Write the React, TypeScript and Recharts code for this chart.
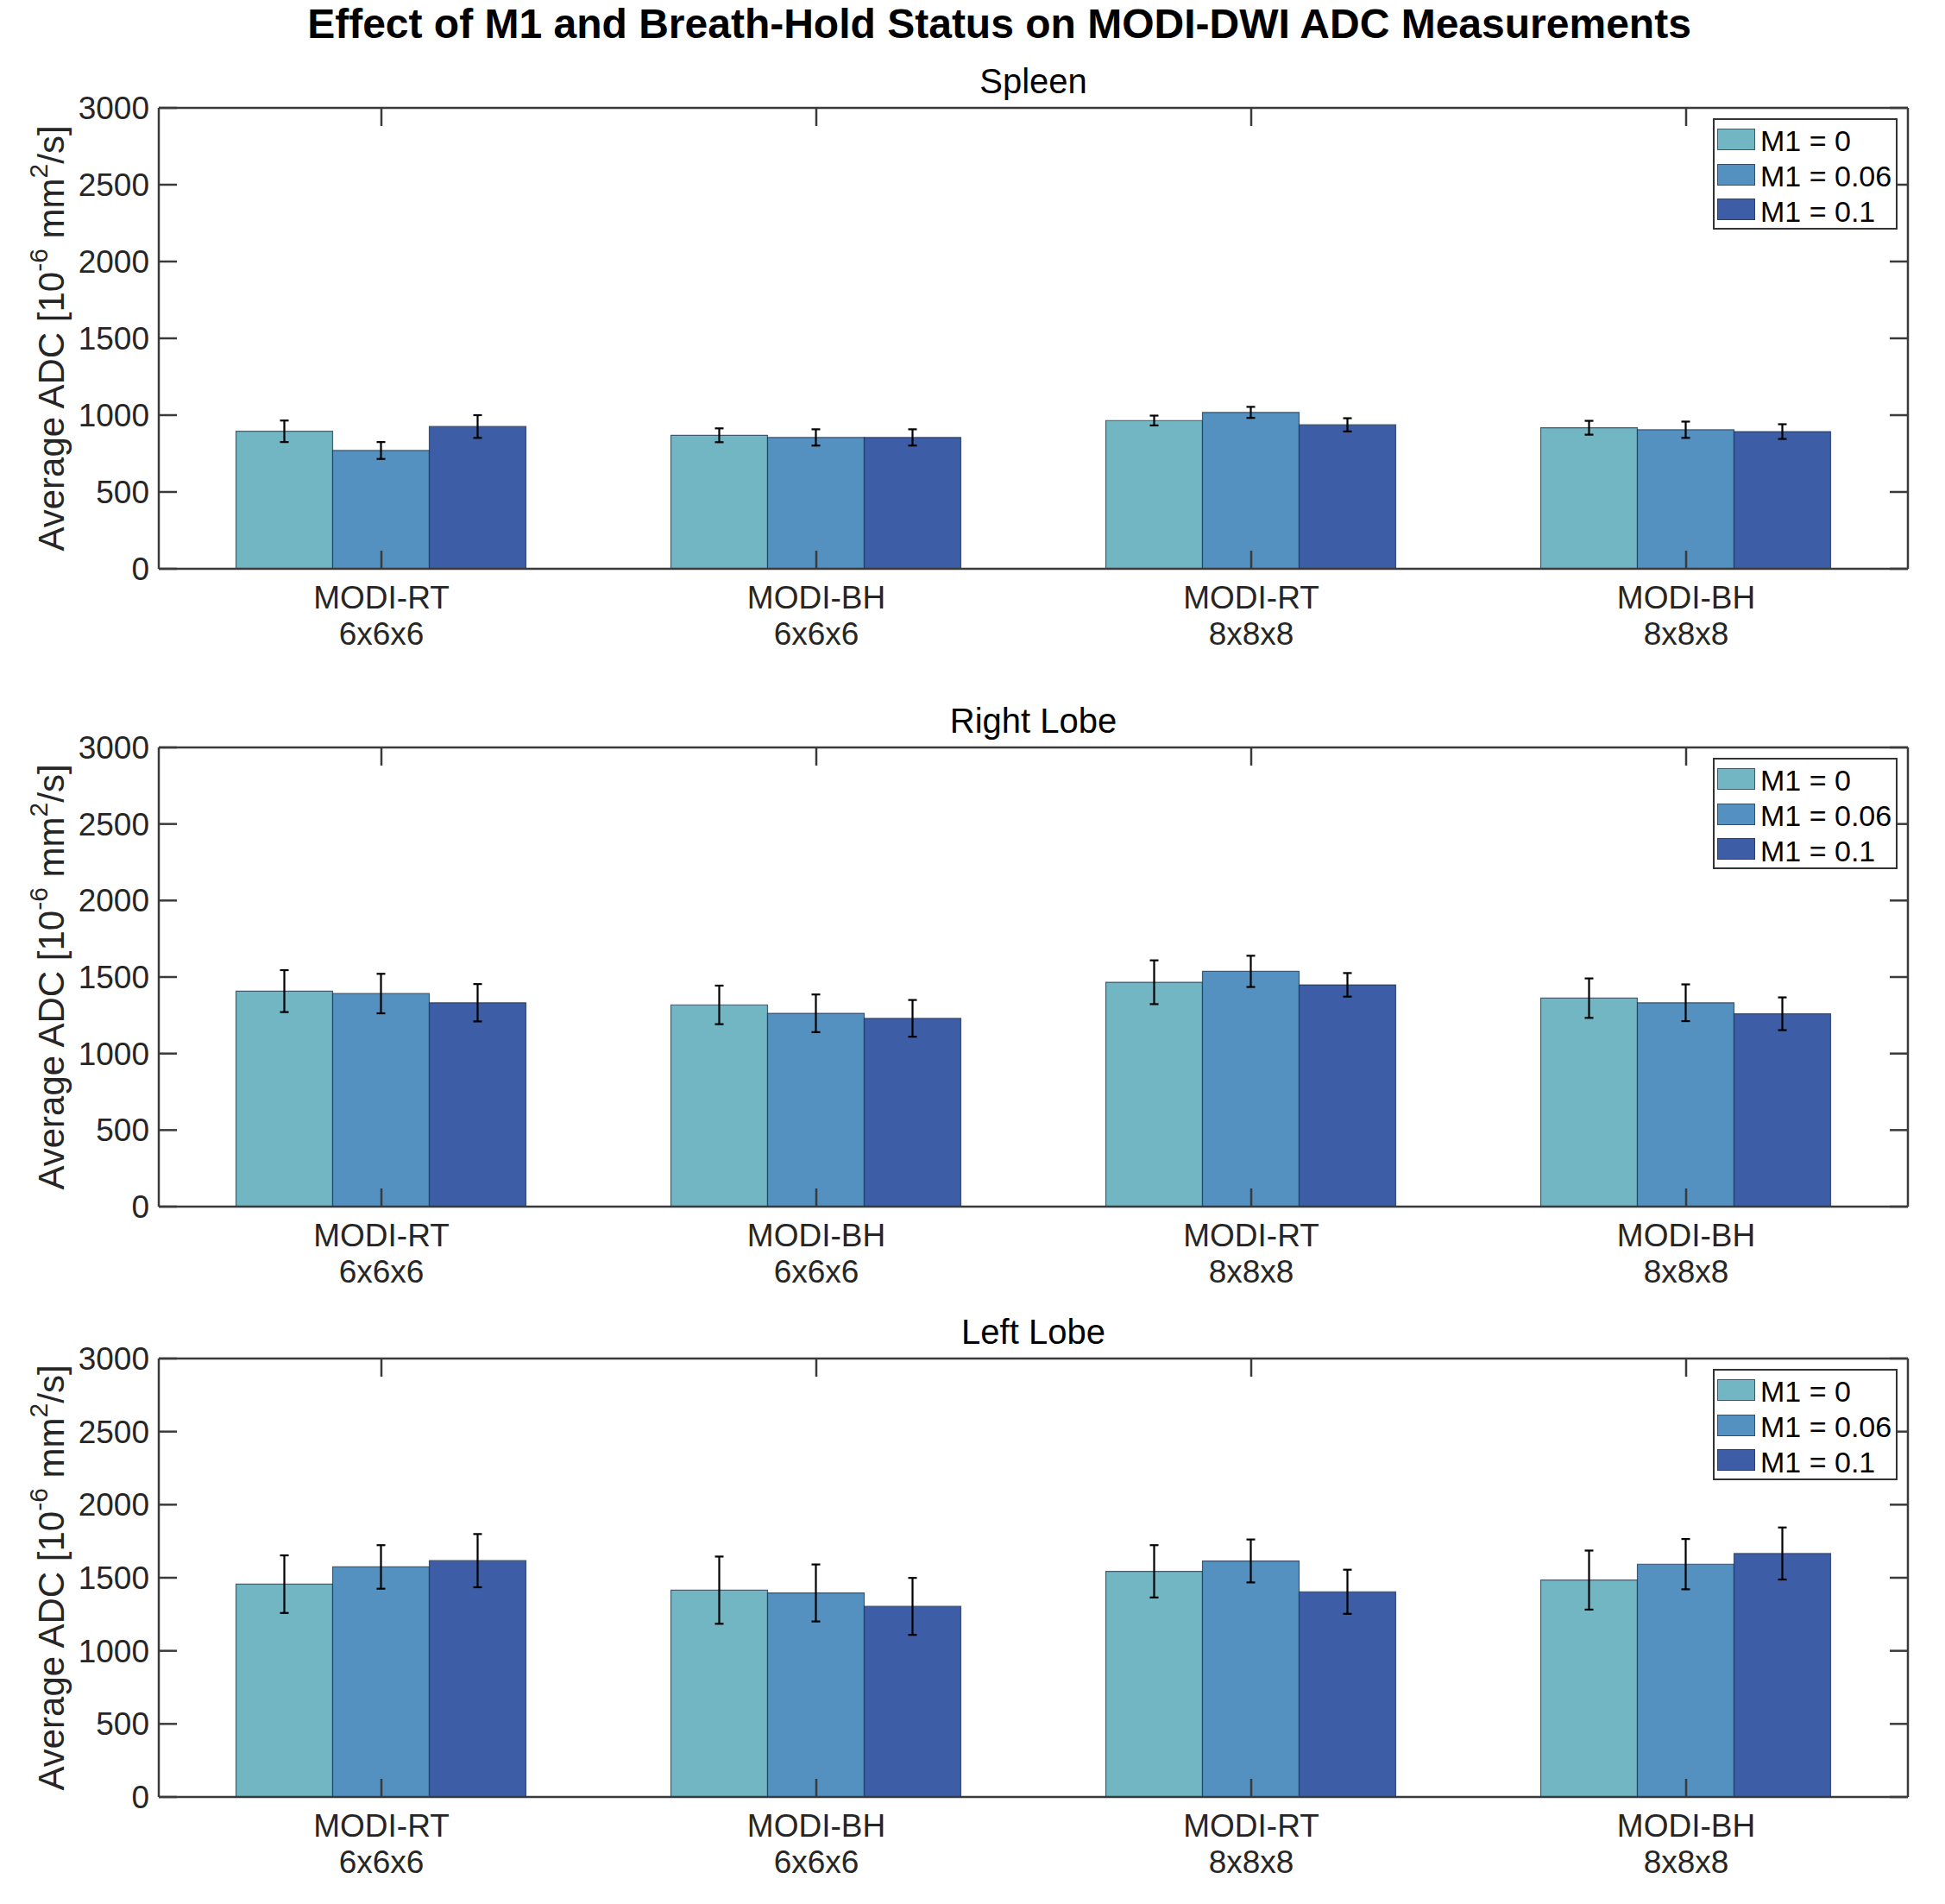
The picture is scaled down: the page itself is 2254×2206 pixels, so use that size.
import React from 'react';
import { BarChart, Bar, XAxis, YAxis, ErrorBar, Legend } from 'recharts';

// ---------- data ----------
const methods = ['MODI-RT', 'MODI-BH', 'MODI-RT', 'MODI-BH'];
const grids = ['6x6x6', '6x6x6', '8x8x8', '8x8x8'];
const seriesNames = ['M1 = 0', 'M1 = 0.06', 'M1 = 0.1'];
const yTicks = [0, 500, 1000, 1500, 2000, 2500, 3000];
const figureTitle = 'Effect of M1 and Breath-Hold Status on MODI-DWI ADC Measurements';

const spleenM1_0 = [895, 869, 965, 918];
const spleenM1_006 = [770, 855, 1018, 905];
const spleenM1_01 = [926, 855, 937, 893];
const spleenErr0 = [70, 45, 32, 45];
const spleenErr006 = [55, 53, 36, 53];
const spleenErr01 = [74, 53, 43, 48];

const rightM1_0 = [1408, 1318, 1466, 1362];
const rightM1_006 = [1392, 1263, 1537, 1332];
const rightM1_01 = [1332, 1230, 1449, 1260];
const rightErr0 = [137, 126, 143, 129];
const rightErr006 = [129, 123, 102, 120];
const rightErr01 = [122, 120, 77, 107];

const leftM1_0 = [1456, 1415, 1544, 1484];
const leftM1_006 = [1574, 1396, 1615, 1593];
const leftM1_01 = [1617, 1304, 1404, 1666];
const leftErr0 = [197, 230, 179, 202];
const leftErr006 = [149, 195, 147, 172];
const leftErr01 = [182, 195, 151, 178];

// ---------- styles / layout ----------
const FONT = '"Liberation Sans", Arial, Helvetica, sans-serif';
const W = 2254;
const H = 2206;
const PLOT_LEFT = 184;
const PLOT_RIGHT = 2211;
const TOP_PAD = 40;
const XAXIS_H = 110;
const seriesColors = ['#72B5C3', '#5491C0', '#3D5EA6'];
const AXIS_COLOR = '#3a3a3a';
const TEXT_COLOR = '#262626';

const panels = [
  {
    title: 'Spleen',
    plotTop: 125,
    plotH: 534,
    means: [spleenM1_0, spleenM1_006, spleenM1_01],
    errs: [spleenErr0, spleenErr006, spleenErr01],
  },
  {
    title: 'Right Lobe',
    plotTop: 866,
    plotH: 532,
    means: [rightM1_0, rightM1_006, rightM1_01],
    errs: [rightErr0, rightErr006, rightErr01],
  },
  {
    title: 'Left Lobe',
    plotTop: 1574,
    plotH: 508,
    means: [leftM1_0, leftM1_006, leftM1_01],
    errs: [leftErr0, leftErr006, leftErr01],
  },
];

function buildRows(means: number[][], errs: number[][]) {
  return methods.map((m, i) => {
    const row: any = { name: m + '\n' + grids[i] };
    means.forEach((s, k) => {
      row['s' + k] = s[i];
      row['e' + k] = errs[k][i];
    });
    return row;
  });
}

const XTick = (props: any) => {
  const { x, y, payload } = props;
  const parts = String(payload.value).split('\n');
  return (
    <g>
      <text x={x} y={y + 46} textAnchor="middle" fontSize={37} fontFamily={FONT} fill={TEXT_COLOR}>
        {parts[0]}
      </text>
      <text x={x} y={y + 88} textAnchor="middle" fontSize={37} fontFamily={FONT} fill={TEXT_COLOR}>
        {parts[1]}
      </text>
    </g>
  );
};

const EmptyTick = () => <g />;

const makeYLabel = (plotH: number) => (props: any) => {
  const vb = props && props.viewBox ? props.viewBox : { x: 0, y: TOP_PAD, width: PLOT_LEFT, height: plotH };
  const cx = (vb.x || 0) + 59;
  const cy = (vb.y || 0) + (vb.height || plotH) / 2;
  return (
    <text
      x={cx}
      y={cy}
      transform={`rotate(-90, ${cx}, ${cy})`}
      textAnchor="middle"
      dominantBaseline="central"
      fontSize={42}
      fontFamily={FONT}
      fill={TEXT_COLOR}
    >
      <tspan>Average ADC [10</tspan>
      <tspan dy={-15} fontSize={30}>-6</tspan>
      <tspan dy={15}> mm</tspan>
      <tspan dy={-15} fontSize={30}>2</tspan>
      <tspan dy={15}>/s]</tspan>
    </text>
  );
};

const renderLegend = (props: any) => {
  const payload = props.payload || [];
  return (
    <div
      style={{
        width: 214,
        height: 129,
        boxSizing: 'border-box',
        border: '2px solid #333',
        background: '#fff',
        paddingTop: 2,
        fontFamily: FONT,
      }}
    >
      {payload.map((entry: any, i: number) => (
        <div key={i} style={{ height: 40.7, display: 'flex', alignItems: 'center', paddingLeft: 3 }}>
          <div
            style={{
              width: 44,
              height: 25,
              background: entry.color,
              border: '1px solid rgba(40,50,70,0.7)',
              boxSizing: 'border-box',
              marginRight: 6,
            }}
          />
          <span style={{ fontSize: 34, color: '#000', lineHeight: '34px', whiteSpace: 'nowrap', position: 'relative', top: 2 }}>
            {entry.value}
          </span>
        </div>
      ))}
    </div>
  );
};

const helperLine = { stroke: AXIS_COLOR, strokeWidth: 2.5 };

const Panel = ({ p }: { p: any }) => {
  const rows = buildRows(p.means, p.errs);
  const height = TOP_PAD + p.plotH + XAXIS_H;
  const pad = { left: 6, right: 5 };
  return (
    <div style={{ position: 'absolute', left: 0, top: p.plotTop - TOP_PAD }}>
      <BarChart
        width={W}
        height={height}
        data={rows}
        margin={{ top: TOP_PAD, right: W - PLOT_RIGHT, left: 0, bottom: 0 }}
        barGap={0}
        barCategoryGap={83.5}
      >
        <XAxis
          xAxisId="x"
          dataKey="name"
          height={XAXIS_H}
          axisLine={false}
          tickLine={false}
          tickSize={0}
          tickMargin={0}
          interval={0}
          padding={pad}
          tick={<XTick />}
        />
        <XAxis
          xAxisId="xb"
          dataKey="name"
          orientation="bottom"
          mirror
          height={1}
          axisLine={helperLine}
          tickLine={helperLine}
          tickSize={21}
          interval={0}
          padding={pad}
          tick={EmptyTick}
        />
        <XAxis
          xAxisId="xt"
          dataKey="name"
          orientation="top"
          mirror
          height={1}
          axisLine={helperLine}
          tickLine={helperLine}
          tickSize={21}
          interval={0}
          padding={pad}
          tick={EmptyTick}
        />
        <YAxis
          yAxisId="y"
          type="number"
          width={PLOT_LEFT}
          domain={[0, 3000]}
          ticks={yTicks}
          interval={0}
          allowDataOverflow
          axisLine={false}
          tickLine={false}
          tickSize={0}
          tickMargin={11}
          tick={{ fontSize: 37, fill: TEXT_COLOR, fontFamily: FONT }}
          label={makeYLabel(p.plotH)}
        />
        <YAxis
          yAxisId="yl"
          type="number"
          mirror
          width={1}
          domain={[0, 3000]}
          ticks={yTicks}
          interval={0}
          allowDataOverflow
          axisLine={helperLine}
          tickLine={helperLine}
          tickSize={21}
          tick={EmptyTick}
        />
        <YAxis
          yAxisId="yr"
          type="number"
          orientation="right"
          mirror
          width={1}
          domain={[0, 3000]}
          ticks={yTicks}
          interval={0}
          allowDataOverflow
          axisLine={helperLine}
          tickLine={helperLine}
          tickSize={21}
          tick={EmptyTick}
        />
        <Legend
          layout="horizontal"
          align="center"
          verticalAlign="middle"
          wrapperStyle={{ position: 'absolute', left: 1985, top: TOP_PAD + 12, width: 214, height: 129 }}
          content={renderLegend}
        />
        {seriesNames.map((name, k) => (
          <Bar
            key={name}
            xAxisId="x"
            yAxisId="y"
            dataKey={'s' + k}
            name={name}
            fill={seriesColors[k]}
            stroke="rgba(35,50,75,0.75)"
            strokeWidth={1.2}
            isAnimationActive={false}
          >
            <ErrorBar dataKey={'e' + k} width={5} stroke="#000" strokeWidth={2.2} isAnimationActive={false} />
          </Bar>
        ))}
      </BarChart>
    </div>
  );
};

export default function App() {
  return (
    <div style={{ position: 'absolute', left: 0, top: 0, width: W, height: H, background: '#fff', overflow: 'hidden' }}>
      {panels.map((p) => (
        <Panel key={p.title} p={p} />
      ))}
      <svg width={W} height={H} style={{ position: 'absolute', left: 0, top: 0, pointerEvents: 'none' }}>
        <text x={1158} y={44} textAnchor="middle" fontSize={48} fontWeight="bold" fontFamily={FONT} fill="#000">
          {figureTitle}
        </text>
        {panels.map((p) => (
          <text
            key={p.title}
            x={(PLOT_LEFT + PLOT_RIGHT) / 2}
            y={p.plotTop - 17}
            textAnchor="middle"
            fontSize={40}
            fontFamily={FONT}
            fill="#000"
          >
            {p.title}
          </text>
        ))}
      </svg>
    </div>
  );
}
